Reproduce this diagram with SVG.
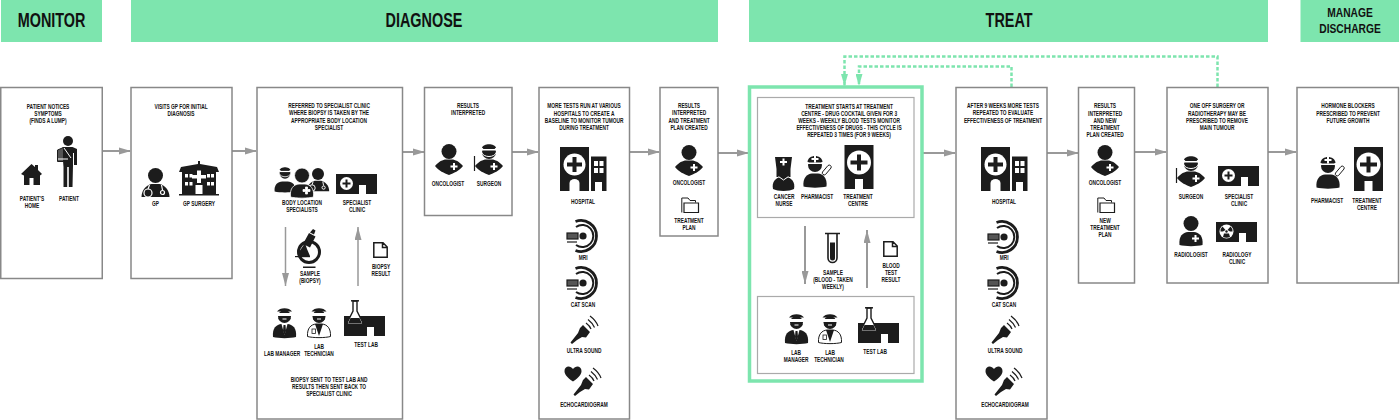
<svg xmlns="http://www.w3.org/2000/svg" width="1400" height="420" viewBox="0 0 1400 420">
<style>
.hd{fill:#7de5ae}
.box{fill:#fff;stroke:#888;stroke-width:1.5}
.inner{fill:#fff;stroke:#aaa;stroke-width:1.2}
.t,.h,.h2{font-family:"Liberation Sans",Arial,sans-serif;font-weight:700;fill:#111;text-anchor:middle;transform-box:fill-box;transform-origin:center}
.t{font-size:7px;transform:translateY(.5px) scaleX(.69)}
.h{font-size:19.500px;transform:scaleX(.74)}
.h2{font-size:13.500px;transform:scaleX(.76)}
.a{fill:none;stroke:#999;stroke-width:2}
.a1{fill:none;stroke:#999;stroke-width:1.500}
.d{fill:none;stroke:#7de5ae;stroke-width:2.500;stroke-dasharray:3.500 2}
.k{fill:#1c1c1c}.w{fill:#fff}
.ks{fill:none;stroke:#1c1c1c}.ws{fill:none;stroke:#fff}
</style>
<defs>
<marker id="ah" viewBox="0 0 12 8" refX="11" refY="4" markerWidth="12" markerHeight="8" markerUnits="userSpaceOnUse" orient="auto"><path d="M0 .5L12 4L0 7.500Z" fill="#999"/></marker>
<marker id="av" viewBox="0 0 13 7" refX="13" refY="3.500" markerWidth="13" markerHeight="7" markerUnits="userSpaceOnUse" orient="auto"><path d="M0 0L13 3.500L0 7Z" fill="#999"/></marker>
<marker id="ag" viewBox="0 0 12 7" refX="12" refY="3.500" markerWidth="12" markerHeight="7" markerUnits="userSpaceOnUse" orient="auto"><path d="M0 0L12 3.500L0 7Z" fill="#7de5ae"/></marker>

<path id="diam" d="M-14 22C-10 17-5 15-2 15.500L2 15.500C5 15 10 17 14 22C10 27 5 29 0 31C-5 29-10 27-14 22Z"/>
<path id="rbody" d="M-11.500 29C-12.500 20-8 16.500-3 16L3 16C8 16.500 12.500 20 11.500 29C6 30.500-6 30.500-11.500 29Z"/>
<path id="plus" d="M-1-3.500H1V-1H3.500V1H1V3.500H-1V1H-3.500V-1H-1Z"/>

<g id="onc"><circle class="k" cx="0" cy="7.500" r="7.500"/><use href="#diam" class="k"/><use href="#plus" class="w" x="5" y="22.500"/></g>
<g id="surgeonhead"><circle class="k" cx="0" cy="8" r="7"/><path class="k" d="M-7 4C-6-1 6-1 7 4Z"/><path class="w" d="M-7 5H7V6.500H-7Z"/><path class="ws" stroke-width="1" d="M-7.500 8C-6 14 6 14 7.500 8"/></g>
<g id="surgeon"><use href="#surgeonhead"/><use href="#diam" class="k"/><use href="#plus" class="w" x="5" y="22.500"/><path class="ks" stroke-width="1.200" d="M-14.500 12V27"/></g>
<g id="gp"><circle class="k" cx="0" cy="7.500" r="7.500"/><path class="k" d="M-14 29C-14 22-9 17-4 16L4 16C9 17 14 22 14 29Z"/><path class="ws" stroke-width="1.200" d="M-6 17L-7.500 21M6 17L7 22"/><circle class="ws" stroke-width="1.200" cx="-7.500" cy="25" r="4"/><circle class="ws" stroke-width="1.200" cx="7" cy="24.500" r="2"/></g>
<g id="rad"><circle class="k" cx="0" cy="7.500" r="7.500"/><use href="#rbody" class="k"/><use href="#plus" class="w" x="4.500" y="22.500"/></g>
<g id="headlab"><circle class="k" cx="0" cy="8.500" r="6.500"/><path class="k" d="M-7.500 3.500C-5-1 5-1 7.500 3.500Z"/><path class="w" d="M-8 5H8V8H-8Z"/><path class="k" d="M-6 10C-3 9 3 9 6 10C6 15-6 15-6 10Z"/><rect class="w" x="-2" y="10.500" width="4" height="1"/></g>
<g id="mgr"><use href="#headlab"/><use href="#rbody" class="k"/><path class="w" d="M-3 16L0 27L3 16Z"/><path class="k" d="M-1 17H1L1.500 23L0 27L-1.500 23Z"/></g>
<g id="tech"><use href="#headlab"/><path class="w" stroke="#1c1c1c" stroke-width="1" d="M-11.500 28.500C-12 20-8 16.500-3 16L3 16C8 16.500 12 20 11.500 28.500C6 30-6 30-11.500 28.500Z"/><path class="k" d="M-4 16L0 28L4 16Z"/><rect class="w" stroke="#1c1c1c" stroke-width=".8" x="-7" y="21" width="3.500" height="4.500"/></g>
<g id="pharm"><circle class="k" cx="0" cy="9" r="7"/><path class="k" d="M-7.500 6C-7-2 7-2 7.500 6Z"/><path class="w" d="M-8 6.500H8V8H-8Z"/><use href="#plus" class="w" x="0" y="3"/><path class="k" d="M-11.500 30.500C-12.500 22-8 18-3 17.500L3 17.500C8 18 12.500 22 11.500 30.500C6 32-6 32-11.500 30.500Z"/><path class="w" stroke="#1c1c1c" stroke-width="1" d="M7.500 16L13 9.500A2 2 0 0 1 16 12L10.500 18.500A2 2 0 0 1 7.500 16Z"/></g>
<g id="nurse"><path class="k" d="M-8.500 0H8.500L7 12V20H-7V12Z"/><use href="#plus" class="w" x="0" y="5"/><path class="k" d="M-10.500 32C-12 25-8 21-3 20L3 20C8 21 12 25 10.500 32C6 34.500-6 34.500-10.500 32Z"/><path class="ws" stroke-width="1" d="M-5 19.500L0 23L5 19.500"/></g>
<g id="patient"><circle class="k" cx="1" cy="5" r="5"/><path class="k" d="M-4.500 11H5.500L10 13V29H7V17H6V29L5.500 51H1.800V31H.2V51H-3.500V31L-4 25Z"/><path fill="#555" stroke="#1c1c1c" stroke-width="1" d="M-9.500 14L-3.500 11.500V25.500H-9.500Z"/><path class="ws" stroke-width="1" d="M-9 23L1 23M-3 12L4 22"/></g>
<path id="house" class="k" d="M10.500 0L14 3V1H17V6L21 10L19 11.500V21H12.500V14H8.500V21H3V11.500L0 10Z"/>
<g id="surgery"><rect class="k" x="0" y="33" width="40" height="1.500"/><path class="k" d="M19 3V0H21V3L38 6L40 11H0L2 6Z"/><rect class="k" x="3" y="11" width="34" height="22"/><path class="w" d="M18 9.500H22V14H27V17.500H22V22H18V17.500H13V14H18Z"/><g class="w"><rect x="6" y="13" width="3" height="3.500"/><rect x="10.500" y="13" width="3" height="3.500"/><rect x="6" y="21" width="3" height="3.500"/><rect x="10.500" y="21" width="3" height="3.500"/><rect x="28" y="13" width="3" height="3.500"/><rect x="32" y="13" width="3" height="3.500"/><rect x="28" y="21" width="3" height="3.500"/><rect x="32" y="21" width="3" height="3.500"/><rect x="16.500" y="24" width="7" height="9"/></g></g>
<g id="hospital"><rect class="k" width="29" height="44"/><circle class="w" cx="14.500" cy="17.500" r="11"/><path class="k" d="M12.500 10H16.500V15.500H22V19.500H16.500V25H12.500V19.500H7V15.500H12.500Z"/><path class="w" d="M9.500 44V36A5 4 0 0 1 19.500 36V44Z"/><rect class="k" x="31" y="9.500" width="15.500" height="34.500"/><g class="w"><rect x="34" y="14" width="4" height="5"/><rect x="39.500" y="14" width="4" height="5"/><rect x="34" y="21" width="4" height="5"/><rect x="39.500" y="21" width="4" height="5"/><rect x="35" y="35" width="7" height="9"/></g></g>
<g id="centre"><rect class="k" width="29" height="44"/><circle class="w" cx="14.500" cy="17.500" r="12"/><path class="k" d="M12.500 9.500H16.500V15.500H23V19.500H16.500V25.500H12.500V19.500H6V15.500H12.500Z"/><rect class="w" x="10.500" y="34" width="8" height="10"/></g>
<path id="block" d="M0 0H41V20H30V11H23V20H0Z"/>
<g id="clinic"><use href="#block" class="k"/><circle class="w" cx="10.500" cy="9.500" r="6.500"/><path class="k" d="M9.500 5.500H11.500V8.500H14.500V10.500H11.500V13.500H9.500V10.500H6.500V8.500H9.500Z"/></g>
<g id="radclinic"><use href="#block" class="k"/><circle class="w" cx="10.500" cy="9.500" r="7"/><circle class="k" cx="10.500" cy="9.500" r="1.200"/><path class="k" d="M6.500 4.500L9.500 8L7 9.500H4.500Q4.500 6 6.500 4.500ZM14.500 4.500L11.500 8L14 9.500H16.500Q16.500 6 14.500 4.500ZM8 11.500H13L14 15Q10.500 16.500 7 15Z"/></g>
<g id="lab"><use href="#block" class="k" y="16"/><path fill="#fff" stroke="#1c1c1c" stroke-width="1.400" d="M9 1V11L3.500 22Q2.500 24.500 5 24.500H17Q19.500 24.500 18.500 22L13 11V1Z"/><path class="ks" stroke-width="1.500" d="M7 .8H15"/><path class="k" d="M6.500 18H15.500L18 23.500H4Z"/></g>
<g id="tube"><path class="ks" stroke-width="1.600" d="M0 1.500H15M3 1.500V26A4.500 4.500 0 0 0 12 26V1.500"/><path class="k" d="M5 10.500H10V26A2.500 2.500 0 0 1 5 26Z"/></g>
<path id="doc" class="ks" stroke-width="1.500" d="M.8.8H10L14.200 5V15.200H.8ZM9.500 1V5.500H14"/>
<g id="folder"><path class="ks" stroke-width="1" d="M.8 15.500V1H7L9 3.500H14.500V5.500"/><path class="w" stroke="#1c1c1c" stroke-width="1.200" d="M3 15.500V6H17.500V15.500Z"/></g>
<g id="micro"><circle fill="#fff" stroke="#1c1c1c" stroke-width="3" cx="14" cy="23" r="10.500"/><path class="k" d="M4 23L10 14L12 20L15 27H4Z"/><path class="k" d="M8 15L14 4L20.500 7.500L15 18.500ZM15 3.500L18 0L20.500 1.500L19 5.500Z"/><rect class="k" x="0" y="27" width="15" height="1.200"/><rect class="k" x="8" y="37.500" width="12.500" height="1.500"/></g>
<g id="mri"><path class="ks" stroke-width="2.800" d="M-7.500-14.500A15.500 15.500 0 1 1-7.500 14.500"/><path class="ks" stroke-width="2" d="M-7-9A11 11 0 1 1-7 9"/><circle class="k" cx="0" cy="0" r="3.600"/><rect fill="#555" stroke="#1c1c1c" stroke-width="1.200" x="-16" y="-3" width="11" height="6"/><path class="ks" stroke-width="1.200" d="M-16 6H-6"/></g>
<g id="probe"><path class="k" d="M-13.500 12.500L-12 14L-7 10L-2 7L2 7.500L6 2L-1-5L-4-2L-6 3Z"/><path class="ks" stroke-width="1.200" d="M2-7Q6-4 7-1M4-10.500Q9-6.500 10.500-2.500M6-14Q12-9.500 14-4"/></g>
<path id="heart" class="k" d="M8.500 15.500C2 11 0 8 0 5C0-.5 6-1 8.500 3C11-1 17-.5 17 5C17 8 15 11 8.500 15.500Z"/>
</defs>

<g id="headers">
<g id="h-monitor"><rect class="hd" x="1" y="0" width="101" height="42"/><text class="h" x="51.500" y="27.500">MONITOR</text></g>
<g id="h-diagnose"><rect class="hd" x="131" y="0" width="587" height="42"/><text class="h" x="424" y="27.500">DIAGNOSE</text></g>
<g id="h-treat"><rect class="hd" x="749" y="0" width="519" height="42"/><text class="h" x="1009" y="27.500">TREAT</text></g>
<g id="h-manage"><rect class="hd" x="1300.500" y="0" width="98.500" height="42"/><text class="h2" x="1350" y="17">MANAGE</text><text class="h2" x="1350" y="33">DISCHARGE</text></g>
</g>

<g id="connectors">
<path class="a" marker-end="url(#ah)" d="M102 151H130"/>
<path class="a" marker-end="url(#ah)" d="M232 151H256"/>
<path class="a" marker-end="url(#ah)" d="M402 152H424"/>
<path class="a" marker-end="url(#ah)" d="M512 152H538"/>
<path class="a" marker-end="url(#ah)" d="M629 152H659"/>
<path class="a" marker-end="url(#ah)" d="M718 153H748"/>
<path class="a" marker-end="url(#ah)" d="M923 153H955"/>
<path class="a" marker-end="url(#ah)" d="M1047 153H1078"/>
<path class="a" marker-end="url(#ah)" d="M1135 152H1166"/>
<path class="a" marker-end="url(#ah)" d="M1268 152H1296"/>
<path class="d" marker-end="url(#ag)" d="M1217.500 87V56.500H844.500V86"/>
<path class="d" marker-end="url(#ag)" d="M1011.500 87V66.500H859V86"/>
</g>

<g id="box-patient"><rect class="box" x="0.750" y="87.500" width="101.500" height="191"/>
<text class="t" x="48" y="108.500">PATIENT NOTICES</text><text class="t" x="48" y="115.500">SYMPTOMS</text><text class="t" x="48" y="122.500">(FINDS A LUMP)</text>
<use href="#house" x="21" y="164"/><use href="#patient" x="67" y="136"/>
<text class="t" x="32" y="200.500">PATIENT'S</text><text class="t" x="32" y="207.500">HOME</text><text class="t" x="69" y="200.500">PATIENT</text></g>

<g id="box-gp"><rect class="box" x="131" y="87.500" width="101" height="191"/>
<text class="t" x="181" y="108.500">VISITS GP FOR INITIAL</text><text class="t" x="181" y="115.500">DIAGNOSIS</text>
<use href="#gp" x="155.500" y="168"/><use href="#surgery" x="179" y="161"/>
<text class="t" x="155.500" y="205.500">GP</text><text class="t" x="199" y="205.500">GP SURGERY</text></g>

<g id="box-specialist"><rect class="box" x="257" y="87.500" width="145.500" height="331.500"/>
<text class="t" x="329" y="107.500">REFERRED TO SPECIALIST CLINIC</text><text class="t" x="329" y="115">WHERE BIOPSY IS TAKEN BY THE</text><text class="t" x="329" y="122.500">APPROPRIATE BODY LOCATION</text><text class="t" x="329" y="130">SPECIALIST</text>
<use href="#surgeonhead" transform="translate(285 167) scale(.78)"/><use href="#rbody" class="k" transform="translate(285 169) scale(.9 .78)"/>
<use href="#gp" transform="translate(318 168) scale(.8)"/>
<g stroke="#fff" stroke-width=".8"><use href="#rad" transform="translate(302 168)"/></g>
<use href="#clinic" x="336" y="174"/>
<text class="t" x="302" y="204.500">BODY LOCATION</text><text class="t" x="302" y="211.500">SPECIALISTS</text><text class="t" x="357" y="204.500">SPECIALIST</text><text class="t" x="357" y="211.500">CLINIC</text>
<path class="a1" marker-end="url(#av)" d="M285.500 227V286"/><path class="a1" marker-end="url(#av)" d="M358 286V227"/>
<use href="#micro" x="295" y="229"/><text class="t" x="310" y="276">SAMPLE</text><text class="t" x="310" y="283">(BIOPSY)</text>
<use href="#doc" x="373" y="242"/><text class="t" x="381" y="268.500">BIOPSY</text><text class="t" x="381" y="275.500">RESULT</text>
<use href="#mgr" x="284.500" y="308"/><use href="#tech" x="319" y="308"/><use href="#lab" x="344" y="300"/>
<text class="t" x="282" y="355.500">LAB MANAGER</text><text class="t" x="319" y="348.500">LAB</text><text class="t" x="319" y="355.500">TECHNICIAN</text><text class="t" x="366" y="346.500">TEST LAB</text>
<text class="t" x="329" y="381.500">BIOPSY SENT TO TEST LAB AND</text><text class="t" x="329" y="388.500">RESULTS THEN SENT BACK TO</text><text class="t" x="329" y="395.500">SPECIALIST CLINIC</text></g>

<g id="box-results1"><rect class="box" x="424.500" y="87.500" width="87.500" height="128"/>
<text class="t" x="468" y="107.500">RESULTS</text><text class="t" x="468" y="115">INTERPRETED</text>
<use href="#onc" x="449" y="144"/><use href="#surgeon" x="489" y="144"/>
<text class="t" x="448" y="185.500">ONCOLOGIST</text><text class="t" x="489" y="185.500">SURGEON</text></g>

<g id="box-tests1"><rect class="box" x="539" y="87.500" width="90.500" height="331.500"/>
<text class="t" x="584" y="108">MORE TESTS RUN AT VARIOUS</text><text class="t" x="584" y="115.500">HOSPITALS TO CREATE A</text><text class="t" x="584" y="122.500">BASELINE TO MONITOR TUMOUR</text><text class="t" x="584" y="130">DURING TREATMENT</text>
<use href="#hospital" x="560" y="147"/><text class="t" x="583" y="203.500">HOSPITAL</text>
<use href="#mri" x="583" y="236"/><text class="t" x="583" y="260">MRI</text>
<use href="#mri" x="583" y="283"/><text class="t" x="583" y="306.500">CAT SCAN</text>
<use href="#probe" x="584" y="330"/><text class="t" x="584" y="352.500">ULTRA SOUND</text>
<use href="#heart" x="564.500" y="366"/><use href="#probe" x="587" y="382"/><text class="t" x="584" y="406.500">ECHOCARDIOGRAM</text></g>

<g id="box-plan1"><rect class="box" x="660" y="87.500" width="58" height="148.500"/>
<text class="t" x="689" y="107.500">RESULTS</text><text class="t" x="689" y="115">INTERPRETED</text><text class="t" x="689" y="122.500">AND TREATMENT</text><text class="t" x="689" y="130">PLAN CREATED</text>
<use href="#onc" x="689" y="145"/><text class="t" x="689" y="184.500">ONCOLOGIST</text>
<use href="#folder" x="681" y="197"/><text class="t" x="689" y="222.500">TREATMENT</text><text class="t" x="689" y="229.500">PLAN</text></g>

<g id="box-treat"><rect fill="#fff" stroke="#7de5ae" stroke-width="3.500" x="749.500" y="87" width="172.500" height="294"/>
<rect class="inner" x="757.500" y="97.500" width="156.500" height="120"/>
<text class="t" x="849" y="108.500">TREATMENT STARTS AT TREATMENT</text><text class="t" x="849" y="115.500">CENTRE - DRUG COCKTAIL GIVEN FOR 3</text><text class="t" x="849" y="122.500">WEEKS - WEEKLY BLOOD TESTS MONITOR</text><text class="t" x="849" y="129.500">EFFECTIVENESS OF DRUGS - THIS CYCLE IS</text><text class="t" x="849" y="136.500">REPEATED 3 TIMES (FOR 9 WEEKS)</text>
<use href="#nurse" x="783.500" y="157"/><use href="#pharm" x="815" y="156"/><use href="#centre" x="844.500" y="145"/>
<text class="t" x="784" y="198.500">CANCER</text><text class="t" x="784" y="205.500">NURSE</text><text class="t" x="817" y="198.500">PHARMACIST</text><text class="t" x="858" y="198.500">TREATMENT</text><text class="t" x="858" y="205.500">CENTRE</text>
<path class="a" marker-end="url(#av)" d="M805 226V284"/><path class="a" marker-end="url(#av)" d="M867 288V230"/>
<use href="#tube" x="825" y="232"/><text class="t" x="833" y="275">SAMPLE</text><text class="t" x="833" y="282">(BLOOD - TAKEN</text><text class="t" x="833" y="289">WEEKLY)</text>
<use href="#doc" x="883" y="241"/><text class="t" x="891" y="267.500">BLOOD</text><text class="t" x="891" y="274.500">TEST</text><text class="t" x="891" y="281.500">RESULT</text>
<rect class="inner" x="757.500" y="296.500" width="156.500" height="77"/>
<use href="#mgr" x="796.500" y="314"/><use href="#tech" x="830" y="314"/><use href="#lab" x="858" y="307"/>
<text class="t" x="796" y="354.500">LAB</text><text class="t" x="796" y="361.500">MANAGER</text><text class="t" x="830" y="354.500">LAB</text><text class="t" x="829" y="361.500">TECHNICIAN</text><text class="t" x="875" y="353.500">TEST LAB</text></g>

<g id="box-tests2"><rect class="box" x="956" y="87.500" width="91" height="331.500"/>
<text class="t" x="1003" y="107.500">AFTER 9 WEEKS MORE TESTS</text><text class="t" x="1003" y="115">REPEATED TO EVALUATE</text><text class="t" x="1003" y="122.500">EFFECTIVENESS OF TREATMENT</text>
<use href="#hospital" x="981" y="147"/><text class="t" x="1004" y="203.500">HOSPITAL</text>
<use href="#mri" x="1004" y="237"/><text class="t" x="1004" y="260">MRI</text>
<use href="#mri" x="1004" y="283"/><text class="t" x="1004" y="306.500">CAT SCAN</text>
<use href="#probe" x="1005" y="330"/><text class="t" x="1005" y="352.500">ULTRA SOUND</text>
<use href="#heart" x="985.500" y="366"/><use href="#probe" x="1008" y="382"/><text class="t" x="1005" y="406.500">ECHOCARDIOGRAM</text></g>

<g id="box-plan2"><rect class="box" x="1078.500" y="87.500" width="56" height="195.500"/>
<text class="t" x="1105" y="108">RESULTS</text><text class="t" x="1105" y="115.500">INTERPRETED</text><text class="t" x="1105" y="122.500">AND NEW</text><text class="t" x="1105" y="129.500">TREATMENT</text><text class="t" x="1105" y="136.500">PLAN CREATED</text>
<use href="#onc" x="1105" y="145"/><text class="t" x="1105" y="184.500">ONCOLOGIST</text>
<use href="#folder" x="1097" y="197"/><text class="t" x="1105" y="222.500">NEW</text><text class="t" x="1105" y="229.500">TREATMENT</text><text class="t" x="1105" y="236.500">PLAN</text></g>

<g id="box-surgery"><rect class="box" x="1167" y="87.500" width="101" height="195.500"/>
<text class="t" x="1217" y="108">ONE OFF SURGERY OR</text><text class="t" x="1217" y="115.500">RADIOTHERAPY MAY BE</text><text class="t" x="1217" y="122.500">PRESCRIBED TO REMOVE</text><text class="t" x="1217" y="129.500">MAIN TUMOUR</text>
<use href="#surgeon" x="1191" y="156"/><use href="#clinic" x="1218" y="166"/>
<text class="t" x="1191" y="198.500">SURGEON</text><text class="t" x="1239" y="198.500">SPECIALIST</text><text class="t" x="1239" y="205.500">CLINIC</text>
<use href="#rad" x="1191" y="216"/><use href="#radclinic" x="1216" y="222"/>
<text class="t" x="1191" y="256.500">RADIOLOGIST</text><text class="t" x="1237" y="256.500">RADIOLOGY</text><text class="t" x="1237" y="264">CLINIC</text></g>

<g id="box-hormone"><rect class="box" x="1297" y="87.500" width="101.500" height="195.500"/>
<text class="t" x="1348" y="108">HORMONE BLOCKERS</text><text class="t" x="1348" y="115.500">PRESCRIBED TO PREVENT</text><text class="t" x="1348" y="122.500">FUTURE GROWTH</text>
<use href="#pharm" x="1328" y="157"/><use href="#centre" x="1354" y="147"/>
<text class="t" x="1327" y="202.500">PHARMACIST</text><text class="t" x="1367" y="202.500">TREATMENT</text><text class="t" x="1367" y="209.500">CENTRE</text></g>
</svg>
